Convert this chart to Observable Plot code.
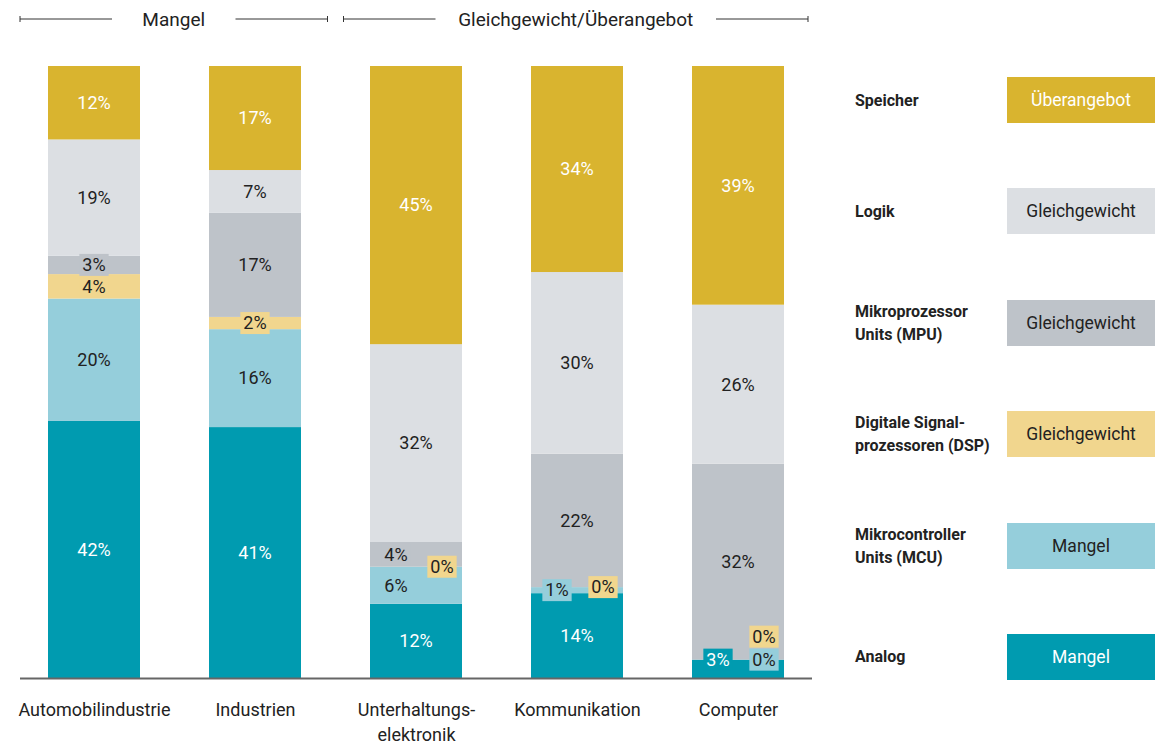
<!DOCTYPE html>
<html><head><meta charset="utf-8">
<script src="https://cdn.jsdelivr.net/npm/d3@7"></script>
<script src="https://cdn.jsdelivr.net/npm/@observablehq/plot@0.6"></script>
<style>
body{margin:0;background:#fff;font-family:Roboto, sans-serif;}
#wrap{position:relative;width:1160px;height:747px;}
#chart{position:absolute;left:0;top:0;}
#legend{position:absolute;left:855px;top:77px;width:300px;height:603px;display:flex;flex-direction:column;justify-content:space-between;}
.row{display:flex;align-items:center;height:46px;}
.lab{width:152px;font-weight:700;font-size:16px;line-height:23px;color:#222;white-space:pre-line;}
.box{width:148px;height:46px;display:flex;align-items:center;justify-content:center;font-size:17.5px;}
</style></head><body>
<div id="wrap"><div id="chart"></div><div id="legend"></div></div>
<script>
// ---- data ----
const categories = ["Automobilindustrie","Industrien","Unterhaltungselektronik","Kommunikation","Computer"];
const categoryLabels = ["Automobilindustrie","Industrien","Unterhaltungs-\nelektronik","Kommunikation","Computer"];
const groupLabels = ["Mangel","Gleichgewicht/Überangebot"];
const groupOf = [0,0,1,1,1];

// series, bottom to top
const series = ["Analog","MCU","DSP","MPU","Logik","Speicher"];
const seriesLabels = ["Analog","Mikrocontroller\nUnits (MCU)","Digitale Signal-\nprozessoren (DSP)","Mikroprozessor\nUnits (MPU)","Logik","Speicher"];
const seriesStatus = ["Mangel","Mangel","Gleichgewicht","Gleichgewicht","Gleichgewicht","Überangebot"];

const analog   = [42,41,12,14,3];
const mcu      = [20,16,6,1,0];
const dsp      = [4,2,0,0,0];
const mpu      = [3,17,4,22,32];
const logik    = [19,7,32,30,26];
const speicher = [12,17,45,34,39];
const seriesValues = [analog, mcu, dsp, mpu, logik, speicher];

// ---- style ----
const palette = ["#009bb0","#95cedb","#f1d68e","#bec3c9","#dcdfe3","#d9b42f"];
const lightText = new Set(["Analog","Speicher"]);
const dark = "#222";

// ---- stacking (normalized per bar) ----
const rows = [];
categories.forEach((cat, ci) => {
  const total = d3.sum(seriesValues, v => v[ci]);
  let cum = 0;
  const hasZero = seriesValues.some(v => v[ci] === 0);
  let zeroCount = 0;
  series.forEach((s, si) => {
    const v = seriesValues[si][ci];
    const y1 = cum / total, y2 = (cum + v) / total;
    cum += v;
    let shift = 0, stack = 0;
    if (hasZero) {
      if (v === 0) { shift = 1; stack = zeroCount++; }
      else if (v < 10) shift = -1;
    }
    rows.push({cat, series: s, value: v, y1, y2, mid: Math.max((y1 + y2) / 2, 0.03), shift, stack, boxed: v <= 4});
  });
});

const measure = document.createElement("canvas").getContext("2d");

function labelsMark(index, scales) {
  const {x, y} = scales;
  const bw = x.bandwidth();
  const g = d3.create("svg:g").attr("font-family", "Roboto, sans-serif").attr("font-size", 18);
  measure.font = "18px Roboto";
  for (const d of rows) {
    const color = palette[series.indexOf(d.series)];
    const cx = x(d.cat) + bw / 2 + (d.shift < 0 ? -20 : d.shift > 0 ? 26 : 0);
    const cy = (d.value === 0 ? y(d.y1) : y(d.mid)) - d.stack * 23;
    const txt = d.value + "%";
    if (d.boxed) {
      const w = measure.measureText(txt).width + 6;
      g.append("rect").attr("x", cx - w / 2).attr("y", cy - 11).attr("width", w).attr("height", 22).attr("fill", color);
    }
    g.append("text").attr("x", cx).attr("y", cy).attr("dy", "0.35em").attr("text-anchor", "middle")
      .attr("fill", lightText.has(d.series) ? "#fff" : dark).text(txt);
  }
  return g.node();
}

function bracketsMark(index, scales, values, dimensions) {
  const {x} = scales;
  const bw = x.bandwidth(), step = x.step();
  const gap = (step - bw) / 2;
  const g = d3.create("svg:g").attr("font-family", "Roboto, sans-serif").attr("font-size", 19);
  const yb = 19, seg = 92;
  groupLabels.forEach((lab, gi) => {
    const members = categories.filter((c, i) => groupOf[i] === gi);
    const x1 = gi === 0 ? dimensions.marginLeft : x(members[0]) - gap + 8;
    const x2 = gi === groupLabels.length - 1 ? dimensions.width - dimensions.marginRight - 4 : x(members[members.length - 1]) + bw + gap - 8;
    const path = `M${x1},${yb}H${x1 + seg}M${x2 - seg},${yb}H${x2}M${x1},${yb - 3}V${yb + 3}M${x2},${yb - 3}V${yb + 3}`;
    g.append("path").attr("d", path).attr("stroke", "#333").attr("stroke-width", 1).attr("fill", "none");
    g.append("text").attr("x", (x1 + x2) / 2).attr("y", yb).attr("dy", "0.35em").attr("text-anchor", "middle").attr("fill", dark).text(lab);
  });
  return g.node();
}

const chart = Plot.plot({
  width: 830, height: 747,
  marginLeft: 20, marginRight: 18, marginTop: 66, marginBottom: 69,
  style: {fontFamily: "Roboto, sans-serif", color: dark, background: "transparent"},
  x: {domain: categories, paddingInner: 0.426, paddingOuter: 0.167, align: 0.5},
  y: {domain: [0, 1], axis: null},
  color: {domain: series, range: palette},
  marks: [
    Plot.barY(rows, {x: "cat", y1: "y1", y2: "y2", fill: "series"}),
    Plot.ruleY([0], {stroke: "#666", strokeWidth: 2}),
    Plot.axisX({tickSize: 0, tickPadding: 20, fontSize: 18, lineHeight: 1.38, label: null, fill: dark,
      tickFormat: c => categoryLabels[categories.indexOf(c)]}),
    labelsMark,
    bracketsMark
  ]
});
document.getElementById("chart").appendChild(chart);

// ---- legend (top to bottom) ----
const legend = d3.select("#legend");
for (let si = series.length - 1; si >= 0; si--) {
  const row = legend.append("div").attr("class", "row");
  row.append("div").attr("class", "lab").text(seriesLabels[si]);
  row.append("div").attr("class", "box")
    .style("background", palette[si])
    .style("color", lightText.has(series[si]) ? "#fff" : dark)
    .text(seriesStatus[si]);
}
</script>
</body></html>
